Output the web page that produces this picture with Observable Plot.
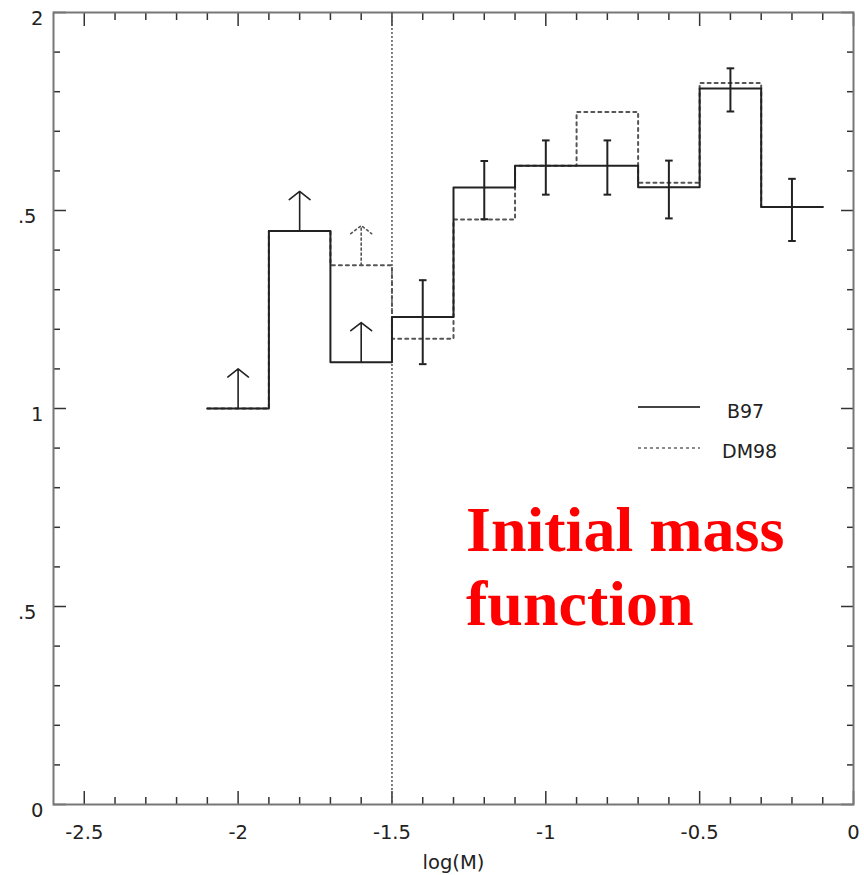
<!DOCTYPE html>
<html><head><meta charset="utf-8">
<script src="https://cdn.jsdelivr.net/npm/d3@7"></script>
<script src="https://cdn.jsdelivr.net/npm/@observablehq/plot@0.6"></script>
<style>
html,body{margin:0;padding:0;background:#fff;}
#wrap{position:relative;width:864px;height:875px;}
#overlay{position:absolute;left:0;top:0;pointer-events:none;}
</style></head><body><div id="wrap"></div>
<script>
// ---- data ----
const binCenters = [-2.0, -1.8, -1.6, -1.4, -1.2, -1.0, -0.8, -0.6, -0.4, -0.2];
const binWidth = 0.2;
const b97  = [1.000, 1.448, 1.117, 1.231, 1.558, 1.613, 1.613, 1.559, 1.808, 1.509];
const dm98 = [1.000, 1.448, 1.362, 1.176, 1.477, 1.613, 1.749, 1.570, 1.822, 1.509];
const errCenters = [-1.4, -1.2, -1.0, -0.8, -0.6, -0.4, -0.2];
const errLow  = [1.112, 1.478, 1.540, 1.540, 1.480, 1.750, 1.423];
const errHigh = [1.324, 1.625, 1.677, 1.677, 1.626, 1.859, 1.580];
const b97LimitCenters = [-2.0, -1.8, -1.6];
const dm98LimitCenters = [-1.6];
const limitArrowLength = 0.1;
const cutoffLogM = -1.5;
const seriesNames = ["B97", "DM98"];
const annotationLines = ["Initial mass", "function"];
const xLabel = "log(M)";
const xMajorTicks = [-2.5, -2, -1.5, -1, -0.5, 0];
const xTickLabels = ["-2.5", "-2", "-1.5", "-1", "-0.5", "0"];
const xMinorTicks = [-2.4, -2.3, -2.2, -2.1, -1.9, -1.8, -1.7, -1.6, -1.4, -1.3, -1.2, -1.1,
                     -0.9, -0.8, -0.7, -0.6, -0.4, -0.3, -0.2, -0.1];
const yMajorTicks = [0, 0.5, 1, 1.5, 2];
const yWholeTicks = [0, 1, 2];
const yWholeLabels = ["0", "1", "2"];
const yHalfTicks = [0.5, 1.5];
const yHalfLabels = [".5", ".5"];
const yMinorTicks = [0.1, 0.2, 0.3, 0.4, 0.6, 0.7, 0.8, 0.9, 1.1, 1.2, 1.3, 1.4, 1.6, 1.7, 1.8, 1.9];

// ---- derived tables ----
function steps(vals) {
  const pts = binCenters.map((c, i) => ({x: c - binWidth / 2, y: vals[i]}));
  pts.push({x: binCenters[binCenters.length - 1] + binWidth / 2, y: vals[vals.length - 1]});
  return pts;
}
function limits(centers, vals) {
  return centers.map(c => {
    const i = binCenters.indexOf(c);
    return {x: c, y1: vals[i], y2: vals[i] + limitArrowLength};
  });
}
const b97Steps = steps(b97);
const dm98Steps = steps(dm98);
const errTable = errCenters.map((c, i) => ({x: c, lo: errLow[i], hi: errHigh[i]}));
const capTable = errTable.flatMap(d => [{x: d.x, y: d.lo}, {x: d.x, y: d.hi}]);
const b97Lim = limits(b97LimitCenters, b97);
const dm98Lim = limits(dm98LimitCenters, dm98);

const capSymbol = {draw(ctx, size) { const w = Math.sqrt(size / Math.PI); ctx.moveTo(-w, 0); ctx.lineTo(w, 0); }};
const fmt = (labels, ticks) => d => { const i = ticks.indexOf(d); return i >= 0 ? labels[i] : ""; };
const blank = () => "";

const MAJ = -13, MIN = -7, TC = "#333";

const chart = Plot.plot({
  width: 864, height: 875,
  marginLeft: 53, marginRight: 11, marginTop: 12, marginBottom: 71,
  x: {domain: [-2.6, 0]},
  y: {domain: [0, 2]},
  style: {fontFamily: "DejaVu Sans", fontSize: "19.5px", color: "#222", background: "white"},
  marks: [
    // ticks on all four sides, pointing inward
    Plot.axisX({anchor: "bottom", ticks: xMajorTicks, tickSize: MAJ, tickFormat: blank, label: null, color: TC, strokeWidth: 1.5}),
    Plot.axisX({anchor: "bottom", ticks: xMinorTicks, tickSize: MIN, tickFormat: blank, label: null, color: TC, strokeWidth: 1.5}),
    Plot.axisX({anchor: "top", ticks: xMajorTicks, tickSize: MAJ, tickFormat: blank, label: null, color: TC, strokeWidth: 1.5}),
    Plot.axisX({anchor: "top", ticks: xMinorTicks, tickSize: MIN, tickFormat: blank, label: null, color: TC, strokeWidth: 1.5}),
    Plot.axisY({anchor: "left", ticks: yMajorTicks, tickSize: MAJ, tickFormat: blank, label: null, color: TC, strokeWidth: 1.5}),
    Plot.axisY({anchor: "left", ticks: yMinorTicks, tickSize: MIN, tickFormat: blank, label: null, color: TC, strokeWidth: 1.5}),
    Plot.axisY({anchor: "right", ticks: yMajorTicks, tickSize: MAJ, tickFormat: blank, label: null, color: TC, strokeWidth: 1.5}),
    Plot.axisY({anchor: "right", ticks: yMinorTicks, tickSize: MIN, tickFormat: blank, label: null, color: TC, strokeWidth: 1.5}),
    // tick labels
    Plot.axisX({anchor: "bottom", ticks: xMajorTicks, tickSize: 0, tickPadding: 21,
      tickFormat: fmt(xTickLabels, xMajorTicks), label: xLabel, labelAnchor: "center",
      labelArrow: "none", labelOffset: 64, color: "#222"}),
    Plot.axisY({anchor: "left", ticks: yWholeTicks, tickSize: 0, tickPadding: 10, dy: 6,
      tickFormat: fmt(yWholeLabels, yWholeTicks), label: null, color: "#222"}),
    Plot.axisY({anchor: "left", ticks: yHalfTicks, tickSize: 0, tickPadding: 17, dy: 6,
      tickFormat: fmt(yHalfLabels, yHalfTicks), label: null, color: "#222"}),
    Plot.frame({stroke: "#777", strokeWidth: 2}),
    // cutoff
    Plot.ruleX([cutoffLogM], {stroke: "#555", strokeWidth: 1.5, strokeDasharray: "2,2"}),
    // histograms
    Plot.line(dm98Steps, {x: "x", y: "y", curve: "step-after", stroke: "#555", strokeWidth: 2, strokeDasharray: "3,4"}),
    Plot.line(b97Steps, {x: "x", y: "y", curve: "step-after", stroke: "#222", strokeWidth: 2}),
    // error bars
    Plot.ruleX(errTable, {x: "x", y1: "lo", y2: "hi", stroke: "#222", strokeWidth: 2}),
    Plot.dot(capTable, {x: "x", y: "y", symbol: capSymbol, r: 3.8, fill: "none", stroke: "#222", strokeWidth: 2}),
    // lower limits
    Plot.arrow(b97Lim, {x1: "x", x2: "x", y1: "y1", y2: "y2", stroke: "#222", strokeWidth: 1.6, headAngle: 104, headLength: 15}),
    Plot.arrow(dm98Lim, {x1: "x", x2: "x", y1: "y1", y2: "y2", stroke: "#555", strokeWidth: 1.6, headAngle: 104, headLength: 15, strokeDasharray: "2,3"})
  ]
});
const wrap = document.getElementById("wrap");
wrap.appendChild(chart);

// legend + annotation overlay
const ns = "http://www.w3.org/2000/svg";
const ov = document.createElementNS(ns, "svg");
ov.setAttribute("id", "overlay");
ov.setAttribute("width", 864); ov.setAttribute("height", 875);
function el(tag, attrs, text) {
  const e = document.createElementNS(ns, tag);
  for (const k in attrs) e.setAttribute(k, attrs[k]);
  if (text != null) e.textContent = text;
  ov.appendChild(e); return e;
}
el("line", {x1: 638, x2: 700, y1: 407, y2: 407, stroke: "#444", "stroke-width": 2});
el("text", {x: 727, y: 418, "font-family": "DejaVu Sans", "font-size": 19, fill: "#222"}, seriesNames[0]);
el("line", {x1: 638, x2: 700, y1: 448, y2: 448, stroke: "#666", "stroke-width": 1.6, "stroke-dasharray": "3,3"});
el("text", {x: 722, y: 458, "font-family": "DejaVu Sans", "font-size": 19, fill: "#222"}, seriesNames[1]);
el("text", {x: 466, y: 551, "font-family": "Liberation Serif, Times New Roman, serif", "font-weight": "bold", "font-size": 64, fill: "#ff0000"}, annotationLines[0]);
el("text", {x: 466, y: 625, "font-family": "Liberation Serif, Times New Roman, serif", "font-weight": "bold", "font-size": 64, fill: "#ff0000"}, annotationLines[1]);
wrap.appendChild(ov);
</script></body></html>
